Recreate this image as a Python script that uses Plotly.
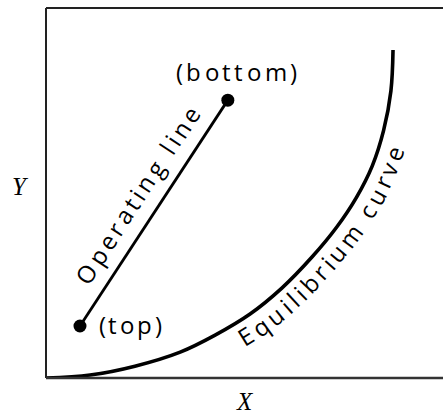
import numpy as np
import plotly.graph_objects as go

# ---------------- data (normalized X, Y; schematic diagram) ----------------
eq_x = [0.0, 0.111, 0.224, 0.338, 0.426, 0.514, 0.594, 0.670, 0.7315, 0.7821, 0.8219, 0.8504, 0.8688, 0.8741]
eq_y = [0.0, 0.008, 0.032, 0.070, 0.116, 0.173, 0.243, 0.327, 0.4068, 0.4884, 0.5735, 0.6692, 0.7759, 0.8865]
op_x = [0.0856, 0.458]   # top, bottom of column
op_y = [0.1405, 0.751]
op_labels = ["(top)", "(bottom)"]
eq_label = "Equilibrium curve"
op_label = "Operating line"

# ---------------- layout geometry ----------------
W, H = 443, 416
ML, MR, MT, MB = 46, 0, 8, 38
PW, PH = W - ML - MR, H - MT - MB
PL, PT = ML, MT
FONT = "Open Sans"
FS = 24
# approximate Open Sans advance widths (em)
ADV = {'(': 0.291, ')': 0.291, 'b': 0.613, 'o': 0.604, 't': 0.353, 'm': 0.930, 'p': 0.613,
       'O': 0.781, 'e': 0.561, 'r': 0.408, 'a': 0.556, 'i': 0.253, 'n': 0.614, 'g': 0.548,
       ' ': 0.26, 'l': 0.253, 'E': 0.557, 'q': 0.613, 'u': 0.614, 'c': 0.49, 'v': 0.501}


def d2p(x, y):
    return np.array([PL + x * PW, PT + (1 - y) * PH])


def p2d(px, py):
    return (px - PL) / PW, 1 - (py - PT) / PH


def catmull(pts, n=30):
    P = np.vstack([pts[0], pts, pts[-1]])
    out = []
    for i in range(1, len(P) - 2):
        p0, p1, p2, p3 = P[i - 1], P[i], P[i + 1], P[i + 2]
        for t in np.linspace(0, 1, n, endpoint=False):
            out.append(0.5 * ((2 * p1) + (-p0 + p2) * t + (2 * p0 - 5 * p1 + 4 * p2 - p3) * t ** 2
                              + (-p0 + 3 * p1 - 3 * p2 + p3) * t ** 3))
    out.append(P[-2])
    return np.array(out)


def text_along(path, text, offset, side, start_px, end_px=None, spacing=3.5):
    """Place characters along a pixel path, offset to one side."""
    d = np.gradient(path, axis=0)
    d /= np.linalg.norm(d, axis=1)[:, None]
    nrm = side * np.column_stack([-d[:, 1], d[:, 0]])
    op = path + offset * nrm
    seg = np.linalg.norm(np.diff(op, axis=0), axis=1)
    s = np.concatenate([[0], np.cumsum(seg)])
    s0 = s[np.argmin(np.linalg.norm(op - np.array(start_px), axis=1))]
    widths = [ADV.get(c, 0.55) * FS for c in text]
    centers_rel = []
    acc = 0.0
    for w in widths:
        centers_rel.append(acc + w / 2)
        acc += w
    centers_rel = np.array(centers_rel) - widths[0] / 2
    if end_px is not None:
        s1 = s[np.argmin(np.linalg.norm(op - np.array(end_px), axis=1))]
        spacing = (s1 - s0 - centers_rel[-1]) / (len(text) - 1)
    anns = []
    for i, ch in enumerate(text):
        if ch == ' ':
            continue
        si = s0 + centers_rel[i] + i * spacing
        x = np.interp(si, s, op[:, 0])
        y = np.interp(si, s, op[:, 1])
        tx = np.interp(si, s, d[:, 0])
        ty = np.interp(si, s, d[:, 1])
        ang = np.degrees(np.arctan2(ty, tx))
        xd, yd = p2d(x, y)
        anns.append(dict(x=xd, y=yd, xref="paper", yref="paper", text=ch, showarrow=False,
                         xanchor="center", yanchor="middle", textangle=ang,
                         font=dict(family=FONT, size=FS, color="black")))
    return anns


fig = go.Figure()
fig.add_trace(go.Scatter(x=eq_x, y=eq_y, mode="lines",
                         line=dict(color="black", width=3.6, shape="spline", smoothing=1.0),
                         hoverinfo="skip", showlegend=False))
fig.add_trace(go.Scatter(x=op_x, y=op_y, mode="lines+markers",
                         line=dict(color="black", width=2.8),
                         marker=dict(color="black", size=13),
                         hoverinfo="skip", showlegend=False))

annotations = []
# curved equilibrium label
eq_px = np.array([d2p(x, y) for x, y in zip(eq_x, eq_y)])
eq_path = catmull(eq_px)
annotations += text_along(eq_path, eq_label, offset=16, side=1,
                          start_px=(249, 340), end_px=(399, 155))
# operating line label
p_top = d2p(op_x[0], op_y[0])
p_bot = d2p(op_x[1], op_y[1])
op_path = np.column_stack([np.linspace(p_top[0], p_bot[0], 200), np.linspace(p_top[1], p_bot[1], 200)])
annotations += text_along(op_path, op_label, offset=24, side=-1,
                          start_px=(81, 270), end_px=(190, 115))
# point labels (horizontal)
h1 = np.column_stack([np.linspace(90, 200, 200), np.full(200, 324.0)])
annotations += text_along(h1, op_labels[0], offset=0, side=1, start_px=(102, 324), spacing=3.0)
h2 = np.column_stack([np.linspace(170, 320, 300), np.full(300, 71.0)])
annotations += text_along(h2, op_labels[1], offset=0, side=1, start_px=(179, 71), end_px=(294, 71))

# axis titles
for txt, (px, py) in [("Y", (20, 186)), ("X", (245, 401))]:
    xd, yd = p2d(px, py)
    annotations.append(dict(x=xd, y=yd, xref="paper", yref="paper", text=txt, showarrow=False,
                            xanchor="center", yanchor="middle",
                            font=dict(family="Liberation Serif", size=25, color="black", style="italic")))

shapes = [
    dict(type="line", xref="paper", yref="paper", x0=0, x1=0, y0=0, y1=1,
         line=dict(color="#222", width=2)),
    dict(type="line", xref="paper", yref="paper", x0=0, x1=1, y0=1, y1=1,
         line=dict(color="#222", width=2)),
    dict(type="line", xref="paper", yref="paper", x0=0, x1=1, y0=0, y1=0,
         line=dict(color="#333", width=2.5)),
]

fig.update_layout(
    width=W, height=H,
    margin=dict(l=ML, r=MR, t=MT, b=MB),
    paper_bgcolor="white", plot_bgcolor="white",
    xaxis=dict(range=[0, 1], visible=False, fixedrange=True),
    yaxis=dict(range=[0, 1], visible=False, fixedrange=True),
    annotations=annotations, shapes=shapes,
    showlegend=False,
)
fig.write_html("out.html", config={"displayModeBar": False, "staticPlot": True},
               post_script="document.body.style.margin='0';document.body.style.overflow='hidden';")
